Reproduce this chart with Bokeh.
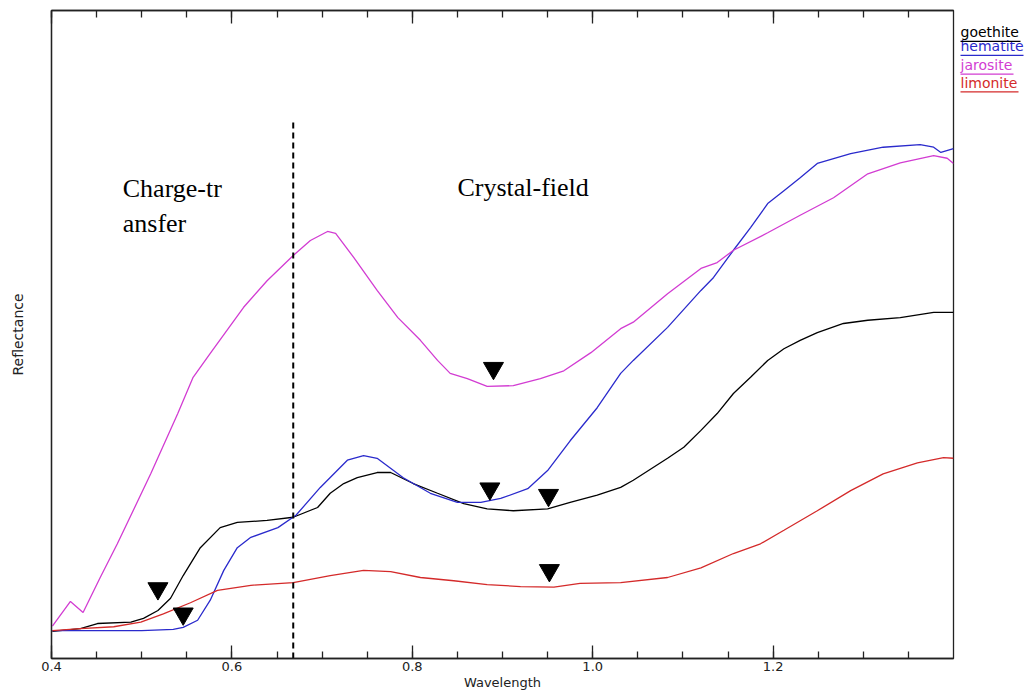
from bokeh.plotting import figure
from bokeh.layouts import row
from bokeh.models import Range1d, LinearAxis, SingleIntervalTicker, FixedTicker, NumeralTickFormatter
from bokeh.core.properties import value
from bokeh.embed import file_html
from bokeh.resources import INLINE

# ---- data ----
goethite_wl = [0.401, 0.432, 0.451, 0.488, 0.502, 0.518, 0.532, 0.546, 0.565, 0.587, 0.606, 0.639,
               0.668, 0.695, 0.709, 0.724, 0.739, 0.761, 0.776, 0.801, 0.828, 0.857, 0.883, 0.912,
               0.950, 0.975, 1.005, 1.031, 1.045, 1.083, 1.101, 1.120, 1.138, 1.156, 1.175, 1.194,
               1.212, 1.230, 1.249, 1.278, 1.305, 1.341, 1.378, 1.400]
goethite_r = [0.042, 0.046, 0.054, 0.056, 0.062, 0.074, 0.093, 0.128, 0.171, 0.202, 0.210, 0.213,
              0.218, 0.233, 0.255, 0.270, 0.279, 0.287, 0.287, 0.270, 0.255, 0.239, 0.231, 0.228,
              0.231, 0.241, 0.252, 0.264, 0.275, 0.309, 0.326, 0.352, 0.378, 0.409, 0.434, 0.460,
              0.478, 0.491, 0.503, 0.517, 0.522, 0.526, 0.534, 0.534]

hematite_wl = [0.401, 0.450, 0.500, 0.535, 0.546, 0.562, 0.576, 0.591, 0.606, 0.621, 0.651, 0.671,
               0.698, 0.728, 0.746, 0.761, 0.790, 0.820, 0.850, 0.876, 0.898, 0.928, 0.950, 0.975,
               1.005, 1.031, 1.045, 1.083, 1.120, 1.134, 1.156, 1.175, 1.194, 1.212, 1.230, 1.249,
               1.286, 1.322, 1.363, 1.378, 1.386, 1.400]
hematite_r = [0.043, 0.043, 0.043, 0.045, 0.048, 0.059, 0.090, 0.136, 0.171, 0.187, 0.202, 0.221,
              0.264, 0.306, 0.313, 0.309, 0.279, 0.255, 0.241, 0.241, 0.247, 0.262, 0.290, 0.336,
              0.387, 0.440, 0.460, 0.511, 0.568, 0.588, 0.630, 0.665, 0.702, 0.722, 0.742, 0.764,
              0.779, 0.789, 0.793, 0.789, 0.781, 0.787]

jarosite_wl = [0.401, 0.421, 0.435, 0.454, 0.473, 0.510, 0.540, 0.557, 0.576, 0.613, 0.639, 0.668,
               0.687, 0.706, 0.715, 0.735, 0.761, 0.784, 0.809, 0.828, 0.842, 0.861, 0.883, 0.912,
               0.942, 0.968, 0.998, 1.031, 1.045, 1.083, 1.120, 1.138, 1.156, 1.194, 1.230, 1.267,
               1.305, 1.341, 1.378, 1.393, 1.400]
jarosite_r = [0.050, 0.088, 0.071, 0.125, 0.177, 0.285, 0.378, 0.434, 0.471, 0.542, 0.583, 0.622,
              0.645, 0.659, 0.656, 0.619, 0.568, 0.526, 0.491, 0.460, 0.440, 0.432, 0.420, 0.421,
              0.432, 0.444, 0.472, 0.509, 0.519, 0.563, 0.602, 0.611, 0.630, 0.657, 0.684, 0.711,
              0.748, 0.765, 0.776, 0.772, 0.764]

limonite_wl = [0.401, 0.432, 0.469, 0.499, 0.524, 0.554, 0.584, 0.621, 0.668, 0.709, 0.746, 0.776,
               0.809, 0.846, 0.883, 0.920, 0.957, 0.986, 1.031, 1.083, 1.120, 1.156, 1.186, 1.212,
               1.249, 1.286, 1.322, 1.360, 1.389, 1.400]
limonite_r = [0.043, 0.046, 0.049, 0.056, 0.069, 0.086, 0.105, 0.113, 0.117, 0.128, 0.136, 0.134,
              0.125, 0.120, 0.114, 0.111, 0.110, 0.116, 0.117, 0.125, 0.140, 0.162, 0.177, 0.198,
              0.228, 0.259, 0.285, 0.302, 0.310, 0.309]

# absorption-feature markers
marker_wl = [0.518, 0.546, 0.890, 0.886, 0.951, 0.952]
marker_r = [0.108, 0.069, 0.448, 0.262, 0.252, 0.136]

# boundary between regions
boundary_wl = 0.668
boundary_top = 0.830

# region notes
note_text = ["Charge-tr", "ansfer", "Crystal-field"]
note_wl = [0.479, 0.479, 0.850]
note_r = [0.725, 0.671, 0.727]

series_names = ["goethite", "hematite", "jarosite", "limonite"]
series_colors = ["#000000", "#2a2acc", "#d23cd2", "#d42a2a"]

AX = "#222222"

# ---- main figure ----
fig = figure(width=957, height=693, output_backend="svg", toolbar_location=None,
             x_range=Range1d(0.4, 1.4), y_range=Range1d(0, 1),
             min_border_left=51, min_border_right=4, min_border_top=10, min_border_bottom=35)
fig.background_fill_color = "white"
fig.border_fill_color = "white"
fig.outline_line_color = AX
fig.outline_line_width = 1.3
fig.xgrid.visible = False
fig.ygrid.visible = False

xs = [goethite_wl, hematite_wl, jarosite_wl, limonite_wl]
ys = [goethite_r, hematite_r, jarosite_r, limonite_r]
for xv, yv, c in zip(xs, ys, series_colors):
    fig.line(xv, yv, line_color=c, line_width=1.3)

fig.segment(x0=[boundary_wl], y0=[0], x1=[boundary_wl], y1=[boundary_top],
            line_color="black", line_width=2, line_dash="6 4")

fig.scatter(marker_wl, marker_r, marker="inverted_triangle", size=20, fill_color="black",
            line_color="black")

fig.text(note_wl, note_r, text=note_text, text_font=value("Liberation Serif"),
         text_font_size="26px", text_color="black", text_baseline="alphabetic", text_align="left")

# bottom axis
xa = fig.xaxis[0]
xa.ticker = SingleIntervalTicker(interval=0.2, num_minor_ticks=4)
xa.formatter = NumeralTickFormatter(format="0.0")
xa.major_tick_in = 13
xa.major_tick_out = 0
xa.minor_tick_in = 7
xa.minor_tick_out = 0
xa.major_label_standoff = 3
xa.major_label_text_font = "DejaVu Sans"
xa.major_label_text_font_size = "13px"
xa.major_label_text_color = AX
xa.axis_label = "Wavelength"
xa.axis_label_text_font = "DejaVu Sans"
xa.axis_label_text_font_size = "13px"
xa.axis_label_text_font_style = "normal"
xa.axis_label_text_color = AX
xa.axis_label_standoff = 1
xa.axis_line_color = AX
xa.axis_line_width = 1.3
xa.major_tick_line_color = AX
xa.minor_tick_line_color = AX
xa.major_tick_line_width = 1.3
xa.minor_tick_line_width = 1.3

# top axis (ticks only, no labels)
ta = LinearAxis(ticker=SingleIntervalTicker(interval=0.2, num_minor_ticks=4),
                major_tick_in=13, major_tick_out=0, minor_tick_in=7, minor_tick_out=0,
                major_label_text_color=None, major_label_text_font_size="1px",
                major_label_standoff=0,
                axis_line_color=AX, axis_line_width=1.3,
                major_tick_line_color=AX, minor_tick_line_color=AX,
                major_tick_line_width=1.3, minor_tick_line_width=1.3)
fig.add_layout(ta, "above")

# left axis (label only)
ya = fig.yaxis[0]
ya.ticker = FixedTicker(ticks=[])
ya.major_tick_out = 0
ya.minor_tick_out = 0
ya.major_label_standoff = 0
ya.axis_label = "Reflectance"
ya.axis_label_text_font = "DejaVu Sans"
ya.axis_label_text_font_size = "14px"
ya.axis_label_text_font_style = "normal"
ya.axis_label_text_color = AX
ya.axis_label_standoff = 26
ya.axis_line_color = AX
ya.axis_line_width = 1.3

# ---- legend panel (coloured, underlined names) ----
leg = figure(width=70, height=693, output_backend="svg", toolbar_location=None,
             x_range=Range1d(0, 70), y_range=Range1d(693, 0),
             x_axis_type=None, y_axis_type=None,
             min_border_left=0, min_border_right=0, min_border_top=0, min_border_bottom=0)
leg.outline_line_color = None
leg.xgrid.visible = False
leg.ygrid.visible = False
leg.background_fill_color = "white"
leg.border_fill_color = "white"

leg_x = [3, 3, 3, 3]
leg_text_y = [23, 38, 58, 77]
leg_line_y = [33, 48, 68, 87]
leg_under_w = [60, 63, 53, 58]
leg.text(leg_x, leg_text_y, text=series_names, text_color=series_colors,
         text_font=value("DejaVu Sans"), text_font_size="14px",
         text_baseline="alphabetic", text_align="left")
leg.segment(x0=leg_x, y0=leg_line_y,
            x1=[x + w for x, w in zip(leg_x, leg_under_w)], y1=leg_line_y,
            line_color=series_colors, line_width=1.2)

p = row(fig, leg, spacing=0)

open("out.html", "w").write(file_html(p, INLINE))
